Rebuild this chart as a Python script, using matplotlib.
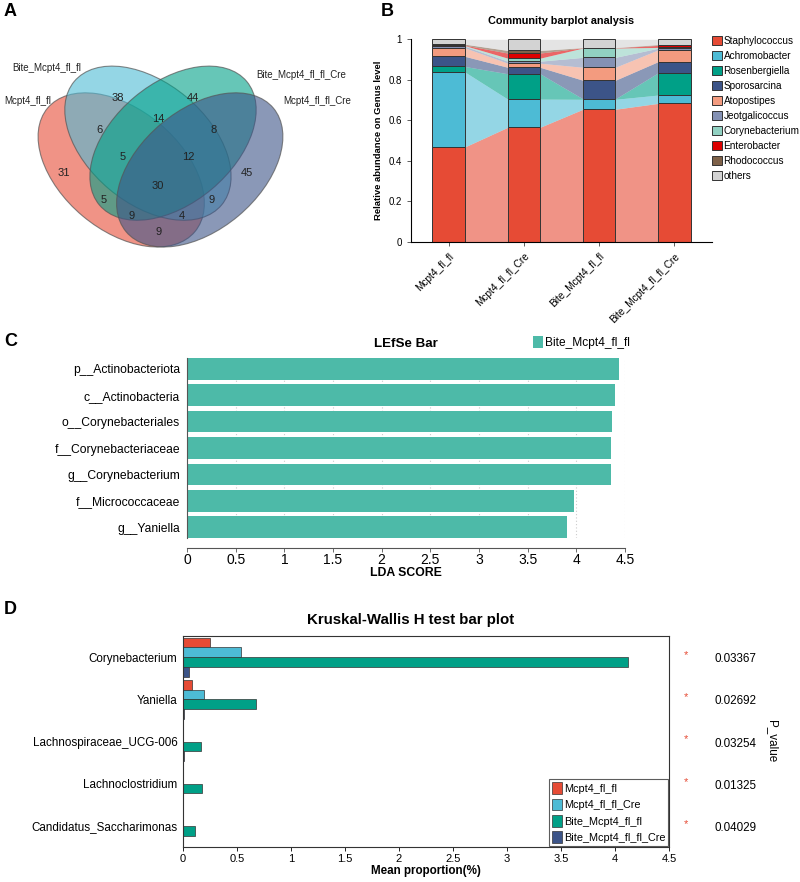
import numpy as np
import matplotlib.pyplot as plt
from matplotlib.patches import Ellipse, Patch
from matplotlib import transforms

plt.rcParams['font.family'] = ['Liberation Sans', 'DejaVu Sans']
narrow = ['Liberation Sans Narrow', 'Liberation Sans', 'DejaVu Sans']

# ---- A: venn ----
venn_sets = ['Mcpt4_fl_fl', 'Bite_Mcpt4_fl_fl', 'Bite_Mcpt4_fl_fl_Cre', 'Mcpt4_fl_fl_Cre']
venn_colors = ['#E64B35', '#4DBBD5', '#00A087', '#3C5488']
venn_regions = ['1000', '0100', '0010', '0001', '1100', '0110', '0011', '1110',
                '0111', '1111', '1010', '0101', '1011', '1101', '1001']
venn_counts = [31, 38, 44, 45, 6, 14, 8, 5, 12, 30, 5, 9, 9, 4, 9]

# ---- B: community barplot ----
groups_b = ['Mcpt4_fl_fl', 'Mcpt4_fl_fl_Cre', 'Bite_Mcpt4_fl_fl', 'Bite_Mcpt4_fl_fl_Cre']
genera = ['Staphylococcus', 'Achromobacter', 'Rosenbergiella', 'Sporosarcina', 'Atopostipes',
          'Jeotgalicoccus', 'Corynebacterium', 'Enterobacter', 'Rhodococcus', 'others']
staph = [0.469, 0.566, 0.655, 0.684]
achromo = [0.370, 0.139, 0.049, 0.041]
rosen = [0.027, 0.125, 0.002, 0.110]
sporo = [0.050, 0.032, 0.092, 0.055]
atopo = [0.042, 0.020, 0.064, 0.058]
jeot = [0.008, 0.010, 0.049, 0.008]
coryne = [0.003, 0.015, 0.046, 0.004]
entero = [0.002, 0.025, 0.001, 0.010]
rhodo = [0.005, 0.013, 0.001, 0.004]
others = [0.024, 0.055, 0.041, 0.026]
genus_colors = ['#E64B35', '#4DBBD5', '#00A087', '#3C5488', '#F39B7F',
                '#8491B4', '#91D1C2', '#DC0000', '#7E6148', '#D3D3D3']

# ---- C: LEfSe ----
lefse_taxa = ['p__Actinobacteriota', 'c__Actinobacteria', 'o__Corynebacteriales',
              'f__Corynebacteriaceae', 'g__Corynebacterium', 'f__Micrococcaceae', 'g__Yaniella']
lda_score = [4.44, 4.40, 4.37, 4.36, 4.36, 3.98, 3.90]

# ---- D: Kruskal-Wallis ----
kw_taxa = ['Corynebacterium', 'Yaniella', 'Lachnospiraceae_UCG-006',
           'Lachnoclostridium', 'Candidatus_Saccharimonas']
kw_groups = ['Mcpt4_fl_fl', 'Mcpt4_fl_fl_Cre', 'Bite_Mcpt4_fl_fl', 'Bite_Mcpt4_fl_fl_Cre']
kw_mcpt4 = [0.254, 0.082, 0.0, 0.0, 0.0]
kw_mcpt4_cre = [0.537, 0.192, 0.0, 0.0, 0.0]
kw_bite = [4.12, 0.677, 0.168, 0.173, 0.115]
kw_bite_cre = [0.058, 0.005, 0.008, 0.002, 0.0]
p_values = ['0.03367', '0.02692', '0.03254', '0.01325', '0.04029']

fig = plt.figure(figsize=(8, 8.82), dpi=100)

def fx(px):
    return px / 800.0

def fy(py):
    return 1 - py / 882.0

# ===== A =====
axA = fig.add_axes([0, fy(300), 0.5, 300 / 882.0])
axA.set_xlim(-0.104, 1.394)
axA.set_ylim(-0.087, 1.036)
axA.axis('off')
ell = [(0.350, 0.400, 140), (0.450, 0.500, 140), (0.544, 0.500, 40), (0.644, 0.400, 40)]
for (cx, cy, ang), c in zip(ell, venn_colors):
    axA.add_patch(Ellipse((cx, cy), 0.72, 0.45, angle=ang, facecolor=c, alpha=0.6,
                          edgecolor='none'))
    axA.add_patch(Ellipse((cx, cy), 0.72, 0.45, angle=ang, facecolor='none',
                          edgecolor='#555555', lw=0.8, alpha=0.7))
region_pos = {'1000': (0.136, 0.388), '0100': (0.338, 0.669), '0010': (0.619, 0.669),
              '0001': (0.821, 0.388), '1100': (0.267, 0.549), '0110': (0.488, 0.590),
              '0011': (0.697, 0.549), '1110': (0.357, 0.448), '0111': (0.600, 0.448),
              '1111': (0.488, 0.340), '1010': (0.286, 0.287), '0101': (0.690, 0.287),
              '1011': (0.390, 0.227), '1101': (0.577, 0.227), '1001': (0.488, 0.167)}
for r, n in zip(venn_regions, venn_counts):
    x, y = region_pos[r]
    axA.text(x, y, str(n), ha='center', va='center', fontsize=8, color='#222222')
set_pos = [(-0.089, 0.658), (-0.059, 0.781), (0.855, 0.755), (0.956, 0.658)]
for name, (x, y) in zip(venn_sets, set_pos):
    axA.text(x, y, name, ha='left', va='center', fontsize=7, color='#222222')

# ===== B =====
axB = fig.add_axes([fx(411), fy(242), fx(712 - 411), 202.7 / 882.0])
series = [staph, achromo, rosen, sporo, atopo, jeot, coryne, entero, rhodo, others]
data_b = np.array(series)
xb = np.arange(len(groups_b))
w = 0.43
bottoms = np.vstack([np.zeros(len(groups_b)), np.cumsum(data_b, axis=0)[:-1]])
tops = bottoms + data_b
for k in range(len(genera)):
    for i in range(len(groups_b) - 1):
        axB.fill_between([xb[i] + w / 2, xb[i + 1] - w / 2],
                         [bottoms[k, i], bottoms[k, i + 1]],
                         [tops[k, i], tops[k, i + 1]],
                         color=genus_colors[k], alpha=0.6, lw=0)
    axB.bar(xb, data_b[k], w, bottom=bottoms[k], color=genus_colors[k],
            edgecolor='#333333', lw=0.7)
axB.set_xlim(-0.5, 3.5)
axB.set_ylim(0, 1)
axB.spines['top'].set_visible(False)
axB.spines['right'].set_visible(False)
axB.set_yticks([0, 0.2, 0.4, 0.6, 0.8, 1])
axB.set_yticklabels(['0', '0.2', '0.4', '0.6', '0.8', '1'], fontsize=7)
axB.set_xticks(xb)
axB.set_xticklabels(groups_b, rotation=45, ha='right', rotation_mode='anchor', fontsize=7.3)
axB.tick_params(length=3, width=0.6, color='#444444')
axB.set_ylabel('Relative abundance on Genus level', fontsize=6.8, fontweight='bold')
axB.set_title('Community barplot analysis', fontsize=7.8, fontweight='bold', pad=11)
handles_b = [Patch(facecolor=c, edgecolor='#333333', lw=0.7) for c in genus_colors]
fig.legend(handles_b, genera, loc='upper left', bbox_to_anchor=(fx(712), fy(36)),
           frameon=False, fontsize=7.2, handlelength=1.0, handleheight=1.0,
           handletextpad=0.15, labelspacing=0.5, borderaxespad=0, borderpad=0)

# ===== C =====
axC = fig.add_axes([fx(187), fy(538), fx(625 - 187), 180 / 882.0])
yc = np.arange(len(lefse_taxa))
axC.xaxis.grid(True, linestyle=(0, (1, 2)), color='#cccccc', lw=0.8)
axC.set_axisbelow(True)
axC.barh(yc, lda_score, height=0.82, color='#4DBAA8', label='Bite_Mcpt4_fl_fl')
axC.set_ylim(len(lefse_taxa) - 0.59, -0.41)
axC.set_xlim(0, 4.5)
axC.set_xticks(np.arange(0, 4.51, 0.5))
axC.set_xticklabels(['%g' % v for v in np.arange(0, 4.51, 0.5)], fontsize=7.5, family=narrow)
axC.set_yticks(yc)
axC.set_yticklabels(lefse_taxa, fontsize=8.7, family=narrow)
axC.tick_params(axis='y', length=0, pad=5)
axC.tick_params(axis='x', length=3, width=0.6, color='#555555', pad=1)
axC.spines['top'].set_visible(False)
axC.spines['right'].set_visible(False)
axC.spines['bottom'].set_position(('outward', 7))
axC.spines['left'].set_color('#555555')
axC.spines['bottom'].set_color('#555555')
axC.set_xlabel('LDA SCORE', fontsize=8.8, fontweight='bold', family=narrow, labelpad=0)
axC.set_title('LEfSe Bar', fontsize=9.6, fontweight='bold', family=narrow, pad=8)
axC.legend(loc='center left', bbox_to_anchor=(0.79, 1.085), frameon=False,
           prop={'family': narrow, 'size': 8.6}, handlelength=0.8, handleheight=1.1,
           handletextpad=0.2, borderaxespad=0, borderpad=0)

# ===== D =====
axD = fig.add_axes([fx(183), fy(847), fx(669 - 183), 211 / 882.0])
kw_vals = [kw_mcpt4, kw_mcpt4_cre, kw_bite, kw_bite_cre]
kw_colors = ['#E64B35', '#4DBBD5', '#00A087', '#3C5488']
yd = np.arange(len(kw_taxa)) + 0.5
bh = 0.23
for j, (vals, c) in enumerate(zip(kw_vals, kw_colors)):
    axD.barh(yd - 1.5 * bh + j * bh, vals, height=bh, color=c, edgecolor='#333333',
             lw=0.5, label=kw_groups[j])
axD.set_ylim(len(kw_taxa), 0)
axD.set_xlim(0, 4.5)
axD.set_xticks(np.arange(0, 4.51, 0.5))
axD.set_xticklabels(['%g' % v for v in np.arange(0, 4.51, 0.5)], fontsize=8, family=narrow)
axD.set_yticks(yd)
axD.set_yticklabels(kw_taxa, fontsize=8.4, family=narrow)
axD.tick_params(length=3, width=0.6, pad=2)
axD.tick_params(axis='y', length=0, pad=4)
for s in axD.spines.values():
    s.set_linewidth(0.8)
    s.set_color('#333333')
axD.set_xlabel('Mean proportion(%)', fontsize=8.4, fontweight='bold', family=narrow, labelpad=1)
trans = transforms.blended_transform_factory(axD.transAxes, axD.transData)
for y, p in zip(yd, p_values):
    axD.text(1.035, y - 0.05, '*', transform=trans, color='#E64B35', fontsize=8,
             ha='center', va='center')
    axD.text(1.136, y + 0.05, p, transform=trans, fontsize=8.4, family=narrow,
             ha='center', va='center')
axD.text(1.212, 0.5, 'P_value', transform=axD.transAxes, rotation=270, fontsize=8.4,
         family=narrow, ha='center', va='center')
leg = axD.legend(loc='lower right', frameon=True, fancybox=False, prop={'family': narrow, 'size': 7.8},
                 handlelength=0.9, handleheight=1.3, handletextpad=0.15, labelspacing=0.42,
                 borderaxespad=0.05, borderpad=0.3)
leg.get_frame().set_edgecolor('#333333')
leg.get_frame().set_linewidth(0.8)
fig.text(fx(411), fy(620), 'Kruskal-Wallis H test bar plot', fontsize=10.8, fontweight='bold',
         family=narrow, ha='center', va='center')

# panel letters
for lab, (px, py) in zip('ABCD', [(4, 12), (381, 12), (4, 342), (4, 610)]):
    fig.text(fx(px), fy(py), lab, fontsize=13, fontweight='bold', ha='left', va='center')

fig.savefig('out.png', dpi=100)
